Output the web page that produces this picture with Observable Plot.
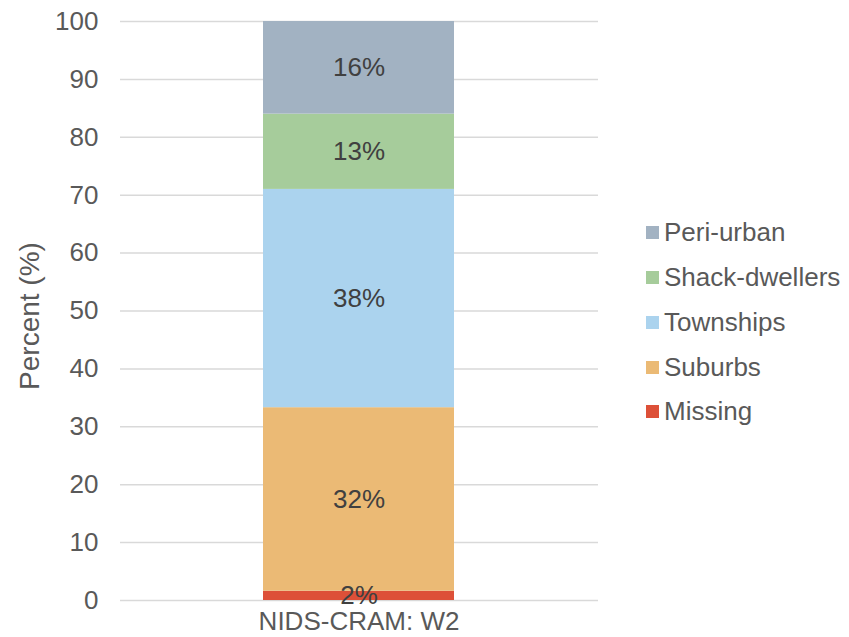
<!DOCTYPE html>
<html><head><meta charset="utf-8">
<script src="https://cdn.jsdelivr.net/npm/d3@7"></script>
<script src="https://cdn.jsdelivr.net/npm/@observablehq/plot@0.6"></script>
<style>
body{margin:0;background:#fff;font-family:"Liberation Sans",Arial,sans-serif}
#wrap{position:relative;width:849px;height:637px;overflow:hidden}
#legend{position:absolute;left:646px;top:210.5px}
.item{display:flex;align-items:center;height:44.75px;font-size:26px;color:#595959;white-space:nowrap}
.sw{width:13px;height:13px;margin-right:5px;flex:none}
</style></head><body><div id="wrap"><div id="legend"></div></div>
<script>
const wave = "NIDS-CRAM: W2";
const categories = ["Missing", "Suburbs", "Townships", "Shack-dwellers", "Peri-urban"];
const values = [1.6, 31.7, 37.7, 13.0, 16.0];
const labels = ["2%", "32%", "38%", "13%", "16%"];
const colors = ["#dd5038", "#ebba75", "#abd3ee", "#a6cc9b", "#a2b2c2"];
const yTicks = [0, 10, 20, 30, 40, 50, 60, 70, 80, 90, 100];
const yTitle = "Percent (%)";

const data = categories.map((c, i) => ({wave, category: c, value: values[i], label: labels[i]}));

const chart = Plot.plot({
  width: 849,
  height: 637,
  marginLeft: 120,
  marginRight: 251,
  marginTop: 21,
  marginBottom: 37,
  style: {fontFamily: "Liberation Sans, Arial, sans-serif", fontSize: "26px", color: "#595959", background: "#fff"},
  x: {type: "band", domain: [wave], padding: 0.427, label: null},
  y: {domain: [0, 100], label: null},
  color: {domain: categories, range: colors},
  marks: [
    Plot.ruleY(yTicks, {stroke: "#d9d9d9", strokeWidth: 1.5}),
    Plot.barY(data, {x: "wave", y: "value", fill: "category", z: "category"}),
    Plot.text(data, Plot.stackY({x: "wave", y: "value", z: "category", text: "label", fill: "#404040", fontSize: 26})),
    Plot.axisY({ticks: yTicks, tickSize: 0, tickPadding: 22, fontSize: 26, label: null, fill: "#595959"}),
    Plot.axisX({tickSize: 0, tickPadding: 11, fontSize: 26, label: null, fill: "#595959"}),
    Plot.text([yTitle], {text: d => d, frameAnchor: "left", textAnchor: "middle", dx: -90, dy: 5, rotate: -90, fontSize: 28, fill: "#595959"})
  ]
});
document.getElementById("wrap").prepend(chart);

const legend = document.getElementById("legend");
for (let i = categories.length - 1; i >= 0; i--) {
  const item = document.createElement("div");
  item.className = "item";
  const sw = document.createElement("span");
  sw.className = "sw";
  sw.style.background = colors[i];
  const t = document.createElement("span");
  t.textContent = categories[i];
  item.append(sw, t);
  legend.append(item);
}
</script>
</body></html>
